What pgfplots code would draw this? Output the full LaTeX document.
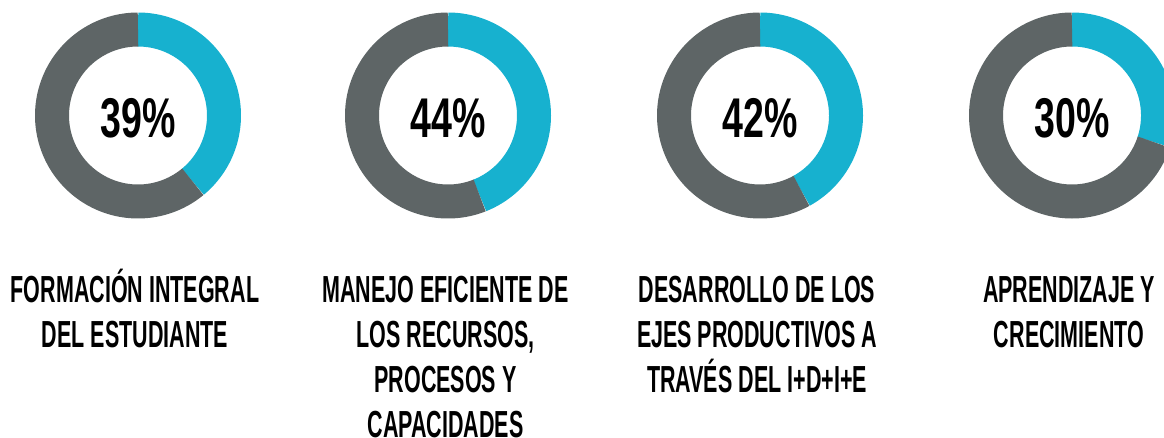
\documentclass[border=0pt]{standalone}
\usepackage{pgfplots}
\pgfplotsset{compat=1.18}
\usepackage{fontspec}
\setmainfont{Liberation Sans}
\newfontfamily\labfont{Liberation Sans}[FakeStretch=0.57]
\newfontfamily\pctfont{Liberation Sans}[FakeStretch=0.67]
\definecolor{donutblue}{HTML}{17B1CF}
\definecolor{donutgray}{HTML}{5E6566}
\newcommand{\lab}{\labfont\bfseries\fontsize{37.7bp}{45bp}\selectfont}
\newcommand{\pct}{\pctfont\bfseries\fontsize{56bp}{60bp}\selectfont}
\begin{document}
\begin{tikzpicture}
\begin{axis}[
  at={(0,0)}, anchor=south west,
  scale only axis, width=1164bp, height=438bp,
  xmin=0, xmax=1164, ymin=0, ymax=438, y dir=reverse,
  enlargelimits=false, hide axis, clip=true,
  trig format=deg,
]
% donut 1: 39%
\addplot[donutblue, line width=34bp, domain=0:140.4, samples=80] ({138+86*sin(x)},{115.5-86*cos(x)});
\addplot[donutgray, line width=34bp, domain=140.4:360, samples=120] ({138+86*sin(x)},{115.5-86*cos(x)});
% donut 2: 44%
\addplot[donutblue, line width=34bp, domain=0:158.4, samples=80] ({448+86*sin(x)},{115.5-86*cos(x)});
\addplot[donutgray, line width=34bp, domain=158.4:360, samples=120] ({448+86*sin(x)},{115.5-86*cos(x)});
% donut 3: 42%
\addplot[donutblue, line width=34bp, domain=0:151.2, samples=80] ({760+86*sin(x)},{115.5-86*cos(x)});
\addplot[donutgray, line width=34bp, domain=151.2:360, samples=120] ({760+86*sin(x)},{115.5-86*cos(x)});
% donut 4: 30%
\addplot[donutblue, line width=34bp, domain=0:108, samples=80] ({1072+86*sin(x)},{115.5-86*cos(x)});
\addplot[donutgray, line width=34bp, domain=108:360, samples=120] ({1072+86*sin(x)},{115.5-86*cos(x)});

\node[anchor=base, inner sep=0pt] at (axis cs:138,137) {\pct 39\%};
\node[anchor=base, inner sep=0pt] at (axis cs:448,137) {\pct 44\%};
\node[anchor=base, inner sep=0pt] at (axis cs:760,137) {\pct 42\%};
\node[anchor=base, inner sep=0pt] at (axis cs:1072,137) {\pct 30\%};

\node[anchor=base, inner sep=0pt] at (axis cs:135,302) {\lab FORMACIÓN INTEGRAL};
\node[anchor=base, inner sep=0pt] at (axis cs:135,347) {\lab DEL ESTUDIANTE};

\node[anchor=base, inner sep=0pt] at (axis cs:445.5,302) {\lab MANEJO EFICIENTE DE};
\node[anchor=base, inner sep=0pt] at (axis cs:445.5,347) {\lab LOS RECURSOS,};
\node[anchor=base, inner sep=0pt] at (axis cs:445.5,392) {\lab PROCESOS Y};
\node[anchor=base, inner sep=0pt] at (axis cs:445.5,437) {\lab CAPACIDADES};

\node[anchor=base, inner sep=0pt] at (axis cs:757,302) {\lab DESARROLLO DE LOS};
\node[anchor=base, inner sep=0pt] at (axis cs:757,347) {\lab EJES PRODUCTIVOS A};
\node[anchor=base, inner sep=0pt] at (axis cs:757,392) {\lab TRAVÉS DEL I+D+I+E};

\node[anchor=base, inner sep=0pt] at (axis cs:1069,302) {\lab APRENDIZAJE Y};
\node[anchor=base, inner sep=0pt] at (axis cs:1069,347) {\lab CRECIMIENTO};
\end{axis}
\pgfresetboundingbox
\path[use as bounding box] (0,0) rectangle (1164bp,438bp);
\end{tikzpicture}
\end{document}
